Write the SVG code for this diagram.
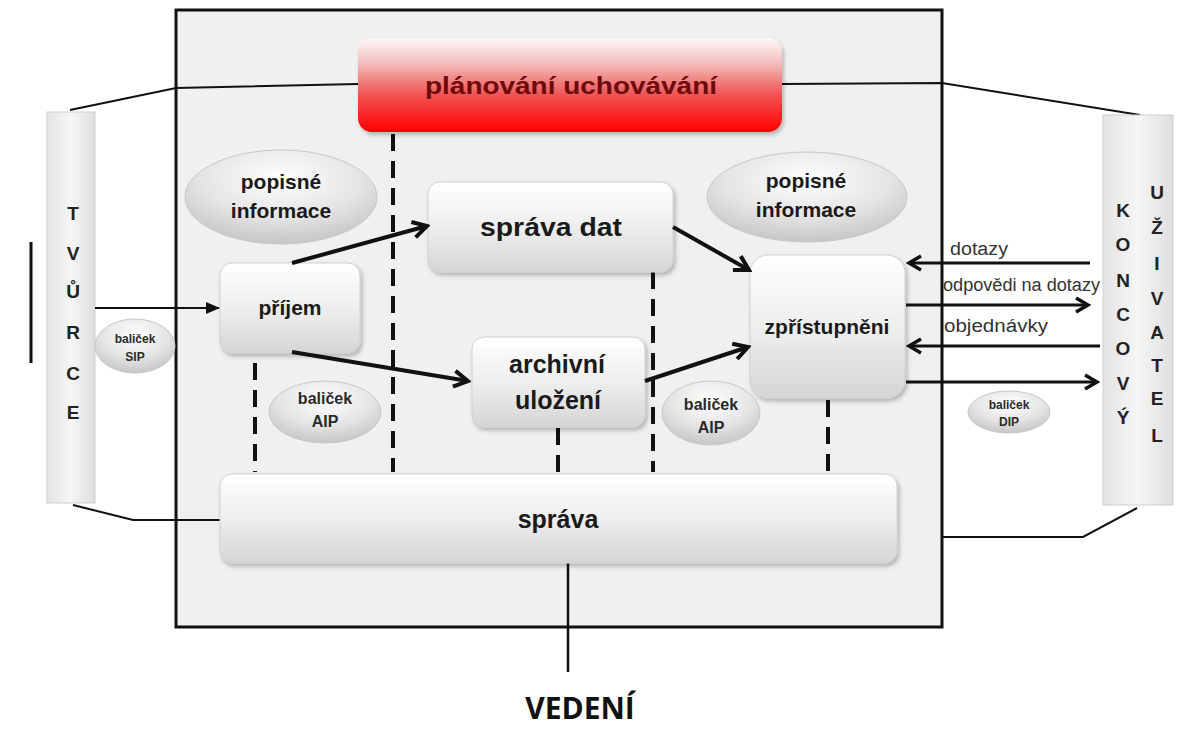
<svg xmlns="http://www.w3.org/2000/svg" width="1177" height="729" viewBox="0 0 1177 729">
<style>
.lbl{font-family:"Liberation Sans",Arial,sans-serif;font-weight:bold;fill:#1a1a1a;text-anchor:middle}
.small{font-family:"Liberation Sans",Arial,sans-serif;font-weight:bold;fill:#2a2a2a;text-anchor:middle}
.side{font-family:"Liberation Sans",Arial,sans-serif;font-weight:bold;fill:#222;text-anchor:middle;font-size:19px}
.msg{font-family:"Liberation Sans",Arial,sans-serif;fill:#333;font-size:18px}
.box{fill:url(#boxGrad);stroke:#d0d0d0;stroke-width:1;filter:url(#shadow)}
.ell{fill:url(#ellGrad);stroke:#c8c8c8;stroke-width:1}
.bar{fill:url(#barGrad);stroke:#cfcfcf;stroke-width:1}
.conn{fill:none;stroke:#111;stroke-width:2}
.dash{fill:none;stroke:#111;stroke-width:4;stroke-dasharray:17 10}
.arr{fill:none;stroke:#111;stroke-width:4;marker-end:url(#chev)}
.arr2{fill:none;stroke:#111;stroke-width:3;marker-end:url(#chev2)}
</style>
<defs>
<linearGradient id="boxGrad" x1="0" y1="0" x2="0" y2="1">
<stop offset="0" stop-color="#ffffff"/>
<stop offset="0.55" stop-color="#ececec"/>
<stop offset="1" stop-color="#d5d5d5"/>
</linearGradient>
<radialGradient id="ellGrad" cx="0.5" cy="0.3" r="0.7">
<stop offset="0" stop-color="#ffffff"/>
<stop offset="0.6" stop-color="#e4e4e4"/>
<stop offset="1" stop-color="#c6c6c6"/>
</radialGradient>
<linearGradient id="redGrad" x1="0" y1="0" x2="0" y2="1">
<stop offset="0" stop-color="#fff8f8"/>
<stop offset="0.25" stop-color="#f3c2c2"/>
<stop offset="0.6" stop-color="#f05454"/>
<stop offset="1" stop-color="#ff0000"/>
</linearGradient>
<linearGradient id="barGrad" x1="0" y1="0" x2="1" y2="0">
<stop offset="0" stop-color="#e4e4e4"/>
<stop offset="0.5" stop-color="#f6f6f6"/>
<stop offset="1" stop-color="#dedede"/>
</linearGradient>
<filter id="shadow" x="-10%" y="-10%" width="130%" height="140%">
<feDropShadow dx="2" dy="3" stdDeviation="2" flood-color="#000" flood-opacity="0.25"/>
</filter>
<marker id="chev" markerUnits="userSpaceOnUse" viewBox="0 0 20 20" refX="17" refY="10" markerWidth="20" markerHeight="20" orient="auto">
<path d="M3,2 L17,10 L3,18" fill="none" stroke="#111" stroke-width="4"/>
</marker>
<marker id="chev2" markerUnits="userSpaceOnUse" viewBox="0 0 18 18" refX="15" refY="9" markerWidth="18" markerHeight="18" orient="auto">
<path d="M3,2 L15,9 L3,16" fill="none" stroke="#111" stroke-width="3.5"/>
</marker>
<marker id="tri" markerUnits="userSpaceOnUse" viewBox="0 0 14 12" refX="13" refY="6" markerWidth="14" markerHeight="12" orient="auto">
<path d="M0,0 L14,6 L0,12 Z" fill="#111"/>
</marker>
</defs>

<rect width="1177" height="729" fill="#ffffff"/>

<g id="system">
<rect x="176" y="10" width="766" height="617" fill="#f0f0f0" stroke="#111" stroke-width="3"/>
</g>

<g id="connectors">
<polyline class="conn" points="70,110 176,88 358,84"/>
<polyline class="conn" points="782,84 942,83 1140,115"/>
<polyline class="conn" points="73,505 133,520 220,520"/>
<polyline class="conn" points="942,537 1083,537 1137,508"/>
<line x1="31" y1="242" x2="31" y2="363" stroke="#111" stroke-width="3"/>
<line x1="568" y1="563" x2="568" y2="672" stroke="#111" stroke-width="2.5"/>
<line class="dash" x1="393" y1="134" x2="393" y2="472"/>
<line class="dash" x1="255" y1="363" x2="255" y2="472"/>
<line class="dash" x1="653" y1="272" x2="653" y2="472"/>
<line class="dash" x1="558" y1="428" x2="558" y2="474"/>
<line class="dash" x1="828" y1="400" x2="828" y2="472"/>
</g>

<g id="tvurce">
<rect class="bar" x="47" y="112" width="48" height="391"/>
<text class="side" x="73" y="220">T</text>
<text class="side" x="73" y="260">V</text>
<text class="side" x="73" y="298">Ů</text>
<text class="side" x="73" y="339">R</text>
<text class="side" x="73" y="380">C</text>
<text class="side" x="73" y="419">E</text>
</g>

<g id="uzivatel">
<rect class="bar" x="1103" y="115" width="70" height="390"/>
<text class="side" x="1123" y="217" font-size="18">K</text>
<text class="side" x="1123" y="251" font-size="18">O</text>
<text class="side" x="1123" y="287" font-size="18">N</text>
<text class="side" x="1123" y="321" font-size="18">C</text>
<text class="side" x="1123" y="355" font-size="18">O</text>
<text class="side" x="1123" y="390" font-size="18">V</text>
<text class="side" x="1123" y="424" font-size="18">Ý</text>
<text class="side" x="1157" y="199" font-size="18">U</text>
<text class="side" x="1157" y="234" font-size="18">Ž</text>
<text class="side" x="1157" y="270" font-size="18">I</text>
<text class="side" x="1157" y="305" font-size="18">V</text>
<text class="side" x="1157" y="339" font-size="18">A</text>
<text class="side" x="1157" y="372" font-size="18">T</text>
<text class="side" x="1157" y="405" font-size="18">E</text>
<text class="side" x="1157" y="442" font-size="18">L</text>
</g>

<g id="planovani">
<rect x="358" y="38" width="424" height="94" rx="14" fill="url(#redGrad)" filter="url(#shadow)"/>
<text x="571" y="94" font-family="Liberation Sans, Arial, sans-serif" font-weight="bold" font-size="24" fill="#6e0a0a" text-anchor="middle" textLength="292" lengthAdjust="spacingAndGlyphs">plánování uchovávání</text>
</g>

<g id="popisne1">
<ellipse class="ell" cx="281" cy="197" rx="96" ry="47"/>
<text class="lbl" x="281" y="189" font-size="21">popisné</text>
<text class="lbl" x="281" y="218" font-size="21">informace</text>
</g>

<g id="popisne2">
<ellipse class="ell" cx="807" cy="197" rx="100" ry="45"/>
<text class="lbl" x="806" y="188" font-size="21">popisné</text>
<text class="lbl" x="806" y="217" font-size="21">informace</text>
</g>

<g id="sprava-dat">
<rect class="box" x="428" y="182" width="245" height="90" rx="12"/>
<text class="lbl" x="551" y="236" font-size="26" textLength="142" lengthAdjust="spacingAndGlyphs">správa dat</text>
</g>

<g id="prijem">
<rect class="box" x="220" y="263" width="140" height="90" rx="12"/>
<text class="lbl" x="290" y="315" font-size="21">příjem</text>
</g>

<g id="archivni">
<rect class="box" x="472" y="337" width="173" height="90" rx="12"/>
<text class="lbl" x="557" y="373" font-size="25">archivní</text>
<text class="lbl" x="558" y="409" font-size="25">uložení</text>
</g>

<g id="zpristupneni">
<rect class="box" x="750" y="255" width="155" height="143" rx="18"/>
<text class="lbl" x="827" y="334" font-size="21">zpřístupněni</text>
</g>

<g id="sprava">
<rect class="box" x="220" y="474" width="677" height="89" rx="12"/>
<text class="lbl" x="558" y="528" font-size="25">správa</text>
</g>

<g id="sip">
<ellipse class="ell" cx="135" cy="346" rx="40" ry="27"/>
<text class="small" x="135" y="343" font-size="12">baliček</text>
<text class="small" x="135" y="361" font-size="12">SIP</text>
</g>

<g id="aip1">
<ellipse class="ell" cx="325" cy="412" rx="56" ry="31"/>
<text class="small" x="325" y="404" font-size="16">baliček</text>
<text class="small" x="325" y="427" font-size="16">AIP</text>
</g>

<g id="aip2">
<ellipse class="ell" cx="711" cy="413" rx="49" ry="32"/>
<text class="small" x="711" y="410" font-size="16">baliček</text>
<text class="small" x="711" y="433" font-size="16">AIP</text>
</g>

<g id="dip">
<ellipse class="ell" cx="1009" cy="412" rx="41" ry="21"/>
<text class="small" x="1009" y="409" font-size="12">baliček</text>
<text class="small" x="1009" y="426" font-size="12">DIP</text>
</g>

<g id="arrows">
<line x1="95" y1="308" x2="219" y2="308" stroke="#111" stroke-width="2" marker-end="url(#tri)"/>
<line class="arr" x1="292" y1="263" x2="427" y2="226"/>
<line class="arr" x1="292" y1="352" x2="468" y2="381"/>
<line class="arr" x1="673" y1="227" x2="749" y2="270"/>
<line class="arr" x1="645" y1="381" x2="748" y2="347"/>
<line class="arr2" x1="1090" y1="263" x2="909" y2="263"/>
<line class="arr2" x1="906" y1="305" x2="1088" y2="305"/>
<line class="arr2" x1="1100" y1="346" x2="909" y2="346"/>
<line class="arr2" x1="906" y1="382" x2="1097" y2="382"/>
</g>

<g id="labels">
<text class="msg" x="950" y="255" textLength="58" lengthAdjust="spacingAndGlyphs">dotazy</text>
<text class="msg" x="943" y="291" textLength="157" lengthAdjust="spacingAndGlyphs">odpovědi na dotazy</text>
<text class="msg" x="944" y="332" textLength="104" lengthAdjust="spacingAndGlyphs">objednávky</text>
</g>

<g id="vedeni">
<text x="580" y="719" font-family="Open Sans, Liberation Sans, sans-serif" font-weight="bold" font-size="30" fill="#111" text-anchor="middle">VEDENÍ</text>
</g>
</svg>
